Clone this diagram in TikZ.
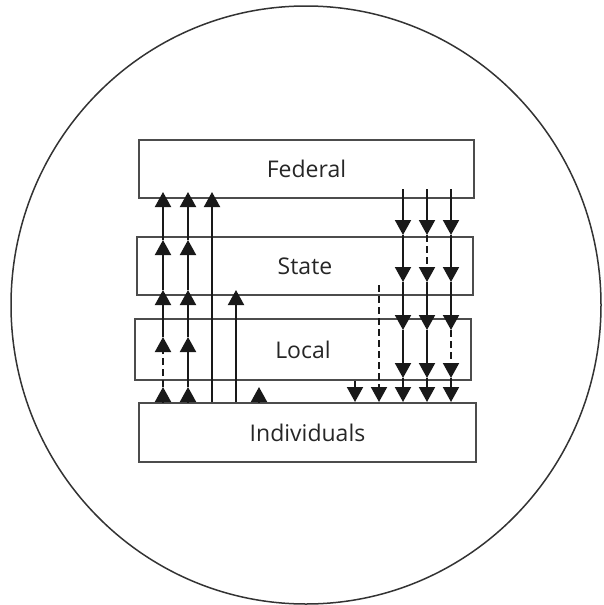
\documentclass[tikz,border=0pt]{standalone}
\usepackage{fontspec}
\newfontfamily\boxfont{Open Sans}
\usetikzlibrary{arrows.meta}
\begin{document}
\begin{tikzpicture}[x=1pt, y=-1pt,
    level/.style={draw=black!70, line width=2pt, minimum height=58pt, inner sep=0pt, font=\boxfont\fontsize{23}{27}\selectfont, text=black!85},
    flow/.style={-{Triangle[width=16pt, length=15pt]}, line width=2pt, black!90},
    broken/.style={dash pattern=on 7pt off 4pt}]
  \useasboundingbox (0, 0) rectangle (603, 605);
  \draw[line width=1.5pt, black!80] (306, 305) ellipse [x radius=295, y radius=299];
  % Levels of government
  \node[level, minimum width=335pt] (fed) at (306.5, 169) {Federal};
  \node[level, minimum width=336pt] (state) at (305, 266) {State};
  \node[level, minimum width=336pt, minimum height=61pt] (local) at (303, 349.5) {Local};
  \node[level, minimum width=337pt, minimum height=59pt] (indiv) at (307.5, 432.5) {Individuals};
  % columns and tip heights
  \coordinate (up1) at (163, 0);
  \coordinate (up2) at (188, 0);
  \coordinate (up3) at (212, 0);
  \coordinate (up4) at (236, 0);
  \coordinate (up5) at (259, 0);
  \coordinate (dn1) at (355, 0);
  \coordinate (dn2) at (379, 0);
  \coordinate (dn3) at (403, 0);
  \coordinate (dn4) at (427, 0);
  \coordinate (dn5) at (451, 0);
  \coordinate (upA) at (0, 387);
  \coordinate (upB) at (0, 337);
  \coordinate (upC) at (0, 290);
  \coordinate (upD) at (0, 240);
  \coordinate (upE) at (0, 192);
  \coordinate (dnS) at (0, 189);
  \coordinate (dnA) at (0, 235);
  \coordinate (dnB) at (0, 282);
  \coordinate (dnC) at (0, 330);
  \coordinate (dnD) at (0, 378);
  \coordinate (dnT) at (0, 285);
  % Upward
  \draw[flow] (up1 |- indiv.north) -- (up1 |- upA);
  \draw[flow, broken] (up1 |- upA) -- (up1 |- upB);
  \draw[flow] (up1 |- upB) -- (up1 |- upC);
  \draw[flow] (up1 |- upC) -- (up1 |- upD);
  \draw[flow] (up1 |- upD) -- (up1 |- upE);
  \draw[flow] (up2 |- indiv.north) -- (up2 |- upA);
  \draw[flow] (up2 |- upA) -- (up2 |- upB);
  \draw[flow] (up2 |- upB) -- (up2 |- upC);
  \draw[flow] (up2 |- upC) -- (up2 |- upD);
  \draw[flow] (up2 |- upD) -- (up2 |- upE);
  \draw[flow] (up3 |- indiv.north) -- (up3 |- upE);
  \draw[flow] (up4 |- indiv.north) -- (up4 |- upC);
  \draw[flow] (up5 |- indiv.north) -- (up5 |- upA);
  % Downward
  \draw[flow] (dn1 |- local.south) -- (dn1 |- indiv.north);
  \draw[flow, broken] (dn2 |- dnT) -- (dn2 |- indiv.north);
  \draw[flow] (dn3 |- dnS) -- (dn3 |- dnA);
  \draw[flow] (dn3 |- dnA) -- (dn3 |- dnB);
  \draw[flow] (dn3 |- dnB) -- (dn3 |- dnC);
  \draw[flow] (dn3 |- dnC) -- (dn3 |- dnD);
  \draw[flow] (dn3 |- dnD) -- (dn3 |- indiv.north);
  \draw[flow] (dn4 |- dnS) -- (dn4 |- dnA);
  \draw[flow, broken] (dn4 |- dnA) -- (dn4 |- dnB);
  \draw[flow] (dn4 |- dnB) -- (dn4 |- dnC);
  \draw[flow] (dn4 |- dnC) -- (dn4 |- dnD);
  \draw[flow] (dn4 |- dnD) -- (dn4 |- indiv.north);
  \draw[flow] (dn5 |- dnS) -- (dn5 |- dnA);
  \draw[flow] (dn5 |- dnA) -- (dn5 |- dnB);
  \draw[flow] (dn5 |- dnB) -- (dn5 |- dnC);
  \draw[flow, broken] (dn5 |- dnC) -- (dn5 |- dnD);
  \draw[flow] (dn5 |- dnD) -- (dn5 |- indiv.north);
\end{tikzpicture}
\end{document}
